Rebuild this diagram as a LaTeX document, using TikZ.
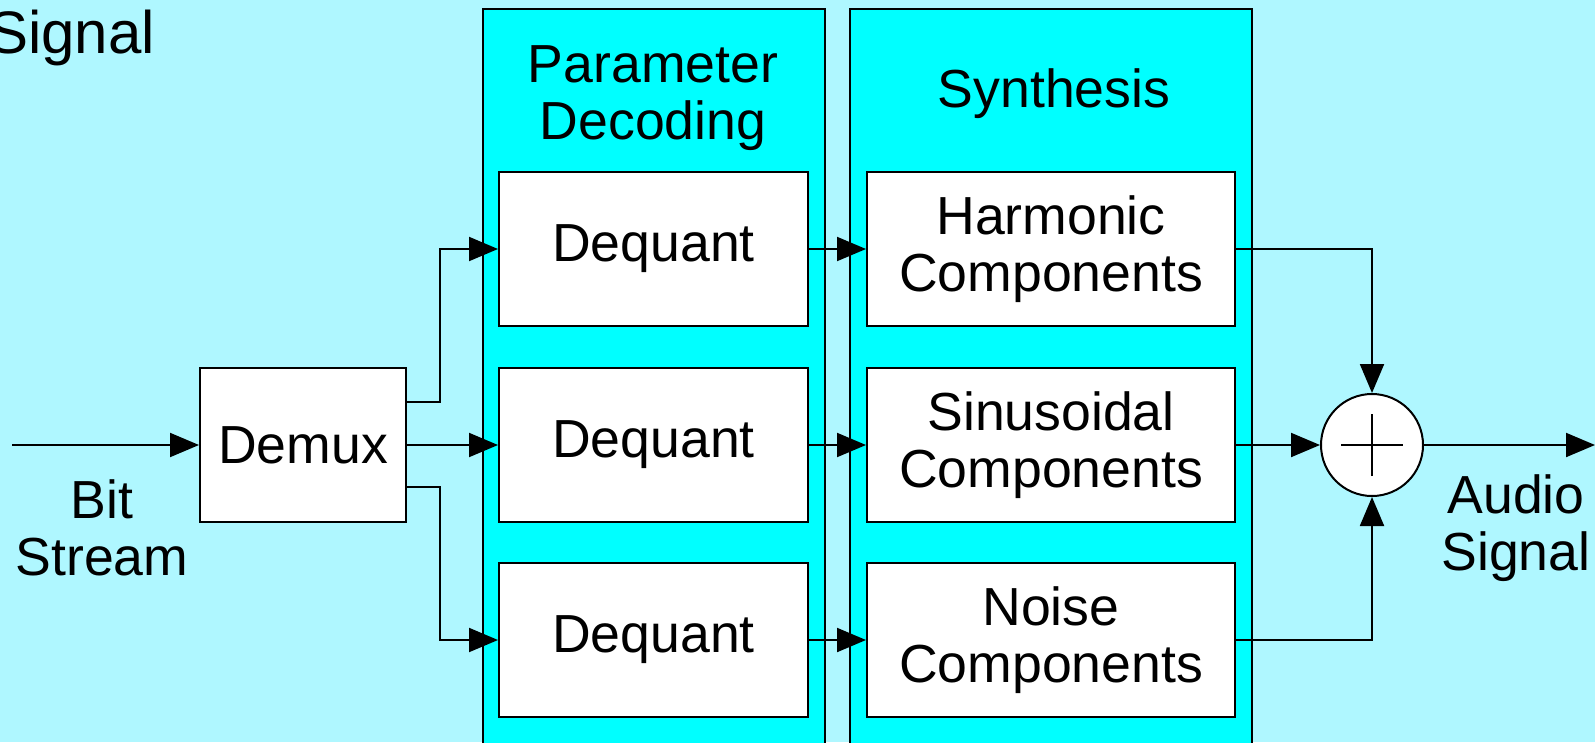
\documentclass[tikz,border=0pt]{standalone}
\usepackage{fontspec}
\setmainfont{Liberation Sans}
\usetikzlibrary{arrows.meta}
\definecolor{bg}{RGB}{175,247,255}
\definecolor{panel}{RGB}{0,255,255}
\begin{document}
\begin{tikzpicture}[x=1pt,y=-1pt, font=\fontsize{53.6}{57}\selectfont, line width=2pt,
  box/.style={draw, fill=white, minimum height=154pt, inner sep=0pt, align=center},
  pan/.style={draw, fill=panel},
  arr/.style={-{Triangle[length=29pt,width=24pt]}},
  lbl/.style={align=center, inner sep=0pt}]
\useasboundingbox (0,0) rectangle (1595,742);
\fill[bg] (0,0) rectangle (1595,742);
\clip (0,0) rectangle (1595,742);
\draw[pan] (483,9) rectangle (825,770);
\draw[pan] (850,9) rectangle (1252,770);
% labels
\node[lbl, anchor=base east, font=\fontsize{60}{66}\selectfont] (sig) at (156,53) {Signal};
\node[lbl] (bs) at (102,528) {Bit\\Stream};
\node[lbl] (as) at (1516,528) {Audio\\Signal};
\node[lbl] (pd) at (653,98) {Parameter\\Decoding};
\node[lbl] (sy) at (1054,94) {Synthesis};
% boxes
\node[box, minimum width=206pt] (dmx) at (303,445) {Demux};
\node[box, minimum width=309pt] (dq1) at (653.5,249) {Dequant};
\node[box, minimum width=309pt] (dq2) at (653.5,445) {Dequant};
\node[box, minimum width=309pt] (dq3) at (653.5,640) {Dequant};
\node[box, minimum width=368pt] (hc) at (1051,249) {Harmonic\\Components};
\node[box, minimum width=368pt] (sc) at (1051,445) {Sinusoidal\\Components};
\node[box, minimum width=368pt] (nc) at (1051,640) {Noise\\Components};
\node[draw, fill=white, circle, minimum size=102pt, inner sep=0pt] (sum) at (1372,445) {};
\draw ([xshift=-31pt]sum.center) -- ([xshift=31pt]sum.center);
\draw ([yshift=-31pt]sum.center) -- ([yshift=31pt]sum.center);
% connectors
\coordinate (in) at (12,445);
\coordinate (out) at (1595,445);
\draw[arr] (in) -- (dmx.west);
\draw[arr] ([yshift=43pt]dmx.east) -- ++(33,0) |- (dq1.west);
\draw[arr] (dmx.east) -- (dq2.west);
\draw[arr] ([yshift=-42pt]dmx.east) -- ++(33,0) |- (dq3.west);
\draw[arr] (dq1.east) -- (hc.west);
\draw[arr] (dq2.east) -- (sc.west);
\draw[arr] (dq3.east) -- (nc.west);
\draw[arr] (hc.east) -| (sum.north);
\draw[arr] (sc.east) -- (sum.west);
\draw[arr] (nc.east) -| (sum.south);
\draw[arr] (sum.east) -- (out);
\end{tikzpicture}
\end{document}
